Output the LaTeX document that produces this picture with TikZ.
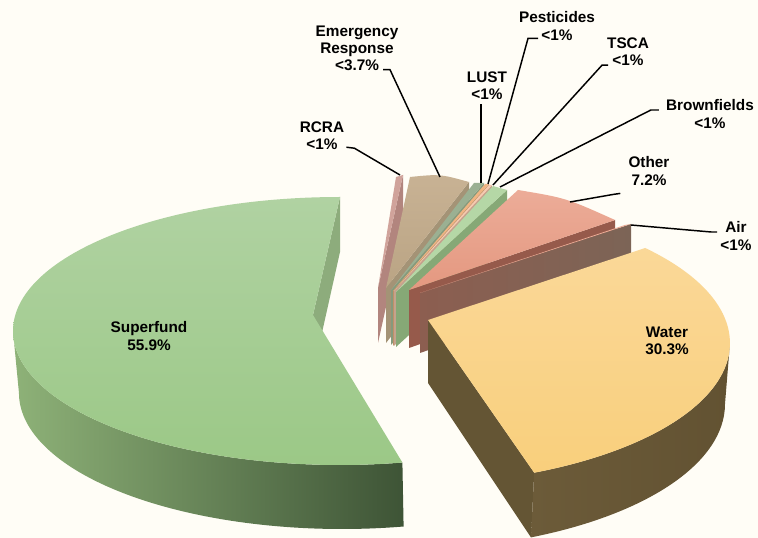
\documentclass[tikz,border=0pt]{standalone}
\usepackage{fontspec}
\setmainfont{Liberation Sans}
\definecolor{bgcream}{RGB}{255,253,246}
\definecolor{sfTopA}{RGB}{176,210,162}
\definecolor{sfTopB}{RGB}{155,200,134}
\definecolor{sfSideA}{RGB}{142,178,120}
\definecolor{sfSideB}{RGB}{62,84,54}
\definecolor{sfCut}{RGB}{141,172,124}
\definecolor{waterTopA}{RGB}{250,216,152}
\definecolor{waterTopB}{RGB}{249,207,124}
\definecolor{waterSideA}{RGB}{108,91,57}
\definecolor{waterSideB}{RGB}{98,82,50}
\definecolor{waterCut}{RGB}{100,85,52}
\definecolor{rcraTop}{RGB}{208,163,155}
\definecolor{rcraSide}{RGB}{178,133,126}
\definecolor{erTopA}{RGB}{200,178,148}
\definecolor{erTopB}{RGB}{186,164,132}
\definecolor{erSide}{RGB}{164,147,118}
\definecolor{lustTop}{RGB}{155,176,146}
\definecolor{lustSide}{RGB}{134,154,124}
\definecolor{pestTop}{RGB}{240,180,130}
\definecolor{tscaTop}{RGB}{246,202,176}
\definecolor{bfTop}{RGB}{181,215,166}
\definecolor{bfSide}{RGB}{134,168,118}
\definecolor{otherTopA}{RGB}{236,172,152}
\definecolor{otherTopB}{RGB}{228,152,128}
\definecolor{otherSide}{RGB}{150,90,75}
\definecolor{airTop}{RGB}{236,172,150}
\definecolor{airSideA}{RGB}{140,94,80}
\definecolor{airSideB}{RGB}{124,100,86}

\begin{document}
\begin{tikzpicture}[x=0.75pt,y=-0.75pt,
  lbl/.style={font=\bfseries\fontsize{11.5}{12.8}\selectfont,align=center},
  leader/.style={black,line width=1.1pt}]
\tikzstyle{every node}+=[inner sep=0pt]
\fill [bgcream] (0,0) rectangle (758,538);
\useasboundingbox (0,0) rectangle (758,538);

% small slices at the back
\fill [rcraSide] (378,288) -- (403,175) -- (403,230) -- (378,343) -- cycle;
\fill [rcraTop] (378,288) -- (396,177) -- (403,175) -- cycle;
\coordinate (rcraTip) at (400,175);
\fill [erSide] (386,288) -- (469,182) -- (469,237) -- (386,343) -- cycle;
\shade [top color=erTopA,bottom color=erTopB] (386,288) -- (410,177) .. controls (440,174) .. (469,182) -- cycle;
\coordinate (erTip) at (440,177);
\fill [lustSide] (391,290) -- (484,183) -- (484,238) -- (391,345) -- cycle;
\fill [lustTop] (391,290) -- (474,183) -- (484,183) -- cycle;
\coordinate (lustTip) at (481,183);
\fill [pestTop!80!black] (393,291) -- (489,184) -- (489,239) -- (393,346) -- cycle;
\fill [pestTop] (393,291) -- (485,184) -- (489,184) -- cycle;
\coordinate (pestTip) at (488,184);
\fill [tscaTop!80!black] (394,291) -- (492,185) -- (492,240) -- (394,346) -- cycle;
\fill [tscaTop] (394,291) -- (489,185) -- (492,185) -- cycle;
\coordinate (tscaTip) at (493,185);
\fill [bfSide] (396,292) -- (507,190) -- (507,245) -- (396,347) -- cycle;
\fill [bfTop] (396,292) -- (493,186) -- (507,190) -- cycle;
\coordinate (bfTip) at (500,187);
\fill [otherSide] (409,290) -- (615,220) -- (615,275) -- (409,348) -- cycle;
\shade [top color=otherTopA,bottom color=otherTopB] (409,290) -- (518,190) .. controls (566,198) .. (615,220) -- cycle;
\coordinate (otherTip) at (570,202);
\shade [left color=airSideA,right color=airSideB] (420,293) -- (631,224) -- (631,279) -- (420,353) -- cycle;
\fill [airTop] (420,293) -- (625,225) -- (631,224) -- cycle;
\coordinate (airTip) at (631,225);

% Superfund
\fill [sfCut] (313,315) -- (340,197) -- (340,252) -- (313,373) -- cycle;
\shade [left color=sfSideA,right color=sfSideB] (13,331) arc (-180:-281:327 and 134) -- (403.6,526.5) arc (-281:-180:323 and 136) -- cycle;
\shade [top color=sfTopA,bottom color=sfTopB] (313,315) -- (340,197) arc (-90:-281:327 and 134) -- cycle;

% Water
\fill [waterCut] (428,320) -- (534.2,472.7) -- (531,537.4) -- (428,383) -- cycle;
\shade [left color=waterSideA,right color=waterSideB] (534.2,472.7) arc (66:0:330 and 142) -- (725,404) arc (0:66:327 and 146) -- cycle;
\shade [top color=waterTopA,bottom color=waterTopB] (428,320) -- (645.2,248) arc (-42:66:330 and 142) -- cycle;

% labels
\node [lbl] (sfLbl) at (149,336) {Superfund\\55.9\%};
\node [lbl] (waterLbl) at (667,341) {Water\\30.3\%};
\node [lbl] (rcraLbl) at (322,136) {RCRA\\<1\%};
\node [lbl] (erLbl) at (357,48) {Emergency\\Response\\<3.7\%};
\node [lbl] (lustLbl) at (487,86) {LUST\\<1\%};
\node [lbl] (pestLbl) at (557,26) {Pesticides\\<1\%};
\node [lbl] (tscaLbl) at (628,52) {TSCA\\<1\%};
\node [lbl] (bfLbl) at (710,114) {Brownfields\\<1\%};
\node [lbl] (otherLbl) at (649,171) {Other\\7.2\%};
\node [lbl] (airLbl) at (736,236) {Air\\<1\%};

\draw [leader] ([shift={(2,-3)}]rcraLbl.south east) -- ++(8,1) -- (rcraTip);
\draw [leader] ([shift={(26,-1)}]erLbl.south) -- ++(7,0) -- (erTip);
\draw [leader] ([shift={(-6,4)}]lustLbl.south) -- (lustTip);
\draw [leader] ([shift={(-19,-2)}]pestLbl.south) -- ++(-10,0) -- (pestTip);
\draw [leader] ([shift={(-20,-1)}]tscaLbl.south) -- ++(-6,0) -- (tscaTip);
\draw [leader] ([shift={(-7,-4)}]bfLbl.west) -- ++(-8,0) -- (bfTip);
\draw [leader] ([shift={(-8,8)}]otherLbl.south west) -- ++(-7,1) -- (otherTip);
\draw [leader] ([shift={(-3,-4)}]airLbl.west) -- ++(-6,0) -- (airTip);
\end{tikzpicture}
\end{document}
